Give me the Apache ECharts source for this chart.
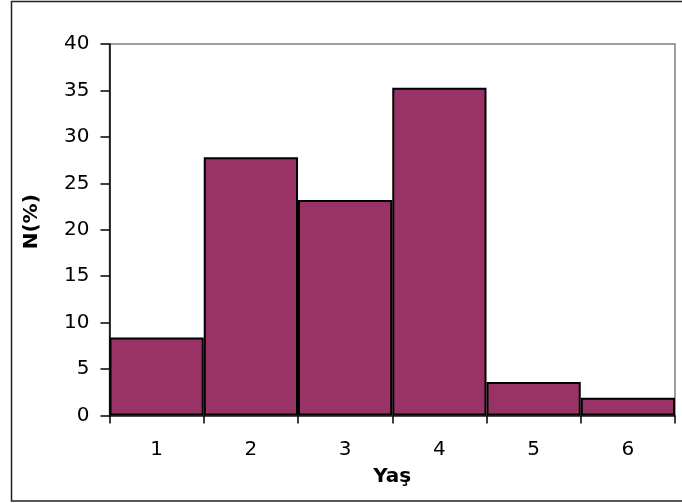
<!DOCTYPE html>
<html>
<head>
<meta charset="utf-8">
<script src="https://cdn.jsdelivr.net/npm/echarts@6/dist/echarts.min.js"></script>
<style>
  html, body { margin: 0; padding: 0; background: #fff; }
  #chart { width: 682px; height: 503px; }
</style>
</head>
<body>
<div id="chart"></div>
<script>
// Age groups and their share of respondents (%)
const categories = ['1', '2', '3', '4', '5', '6'];
const percentages = [8.4, 27.8, 23.2, 35.3, 3.6, 1.9];
const yTicks = { min: 0, max: 40, interval: 5 };

const chart = echarts.init(document.getElementById('chart'), null, { renderer: 'canvas' });

const font = 'DejaVu Sans';

chart.setOption({
  animation: false,
  backgroundColor: '#ffffff',
  textStyle: { fontFamily: font, fontSize: 20 },
  grid: {
    left: 109.5, right: 7, top: 44, bottom: 87.5,
    outerBoundsMode: 'none',
    containLabel: false,
    show: true, borderColor: '#808080', borderWidth: 1.5, backgroundColor: 'transparent'
  },
  graphic: [{
    type: 'rect',
    shape: { x: 11.5, y: 1.5, width: 690, height: 499.5 },
    style: { fill: 'none', stroke: '#222', lineWidth: 1.5 },
    silent: true, z: 0
  }],
  xAxis: {
    type: 'category',
    data: categories,
    name: 'Yaş',
    nameLocation: 'middle',
    nameGap: 51,
    nameTextStyle: { fontFamily: font, fontSize: 20, fontWeight: 'bold', color: '#000' },
    axisLine: { lineStyle: { color: '#222', width: 1.5 } },
    axisTick: { show: true, length: 8, lineStyle: { color: '#000', width: 1.5 } },
    axisLabel: { fontFamily: font, fontSize: 20, color: '#000', margin: 24 },
    splitLine: { show: false }
  },
  yAxis: {
    type: 'value',
    min: yTicks.min,
    max: yTicks.max,
    interval: yTicks.interval,
    name: 'N(%)',
    nameLocation: 'middle',
    nameGap: 68,
    nameRotate: 90,
    nameTextStyle: { fontFamily: font, fontSize: 20, fontWeight: 'bold', color: '#000', padding: [0, 0, 0, 16] },
    axisLine: { show: true, lineStyle: { color: '#000', width: 1.5 } },
    axisTick: { show: true, length: 9, lineStyle: { color: '#000', width: 1.5 } },
    axisLabel: { fontFamily: font, fontSize: 20, color: '#000', margin: 20 },
    splitLine: { show: false }
  },
  series: [{
    type: 'bar',
    data: percentages,
    barCategoryGap: '0%',
    itemStyle: { color: '#993366', borderColor: '#000', borderWidth: 2 }
  }]
});
</script>
</body>
</html>
